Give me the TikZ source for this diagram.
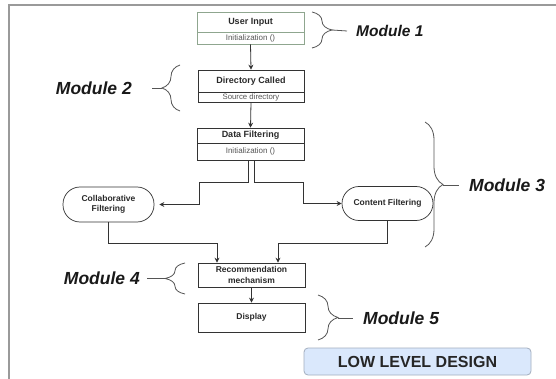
\documentclass[tikz,border=0pt]{standalone}
\usepackage{fontspec}
\setmainfont{Liberation Sans}
\usetikzlibrary{arrows.meta,decorations.pathreplacing,calc}
\definecolor{lineC}{HTML}{333333}
\definecolor{txtC}{HTML}{2A2A2A}
\definecolor{subC}{HTML}{555555}
\definecolor{greenB}{HTML}{8FA68F}
\definecolor{frameC}{HTML}{9A9A9A}
\definecolor{braceC}{HTML}{555555}
\definecolor{blueF}{HTML}{DAE8FC}
\definecolor{blueB}{HTML}{A3AEBF}
\tikzset{
  hbox/.style={draw=lineC, line width=0.7pt, inner sep=0pt, minimum width=107pt,
    font=\fontsize{9}{10}\selectfont\bfseries, text=txtC, align=center},
  sbox/.style={draw=lineC, line width=0.7pt, inner sep=0pt, minimum width=107pt,
    font=\fontsize{8.5}{9}\selectfont, text=subC},
  oval/.style={draw=lineC, line width=0.7pt, rounded corners=17pt, inner sep=0pt,
    minimum width=91pt, font=\fontsize{8.5}{10}\selectfont\bfseries, text=txtC, align=center},
  arr/.style={draw=lineC, line width=0.8pt, -{Stealth[length=5pt,width=5pt]}},
  bracedown/.style={draw=braceC, line width=0.8pt, decorate, decoration={brace, amplitude=#1}},
  tipline/.style={draw=braceC, line width=0.8pt},
  modlabel/.style={inner sep=0pt, font=\fontsize{17.5}{18}\selectfont\bfseries\itshape, text=black!90}
}
\begin{document}
\begin{tikzpicture}[x=1pt,y=-1pt]
\useasboundingbox (0,0) rectangle (556,379);
\fill[white] (0,0) rectangle (556,379);
% frame
\draw[frameC, line width=1.6pt] (9,381) -- (9,5) -- (558,5);

% boxes
\node[hbox, draw=greenB, minimum height=20pt] (ui) at (250.5,22) {User Input};
\node[sbox, draw=greenB, minimum height=12pt, font=\fontsize{8}{9}\selectfont] (uisub) at (250.5,38) {Initialization ()};

\node[hbox, minimum width=106pt, minimum height=22pt] (dir) at (251,81) {Directory Called};
\node[sbox, minimum width=106pt, minimum height=10pt, font=\fontsize{7.8}{8}\selectfont] (dirsub) at (251,97) {Source directory};

\node[hbox, minimum height=15pt] (df) at (250.5,135.5) {Data Filtering};
\node[sbox, minimum height=17pt, font=\fontsize{8}{9}\selectfont] (dfsub) at (250.5,151.5) {Initialization ()};

\node[oval, minimum height=35pt] (collab) at (108.5,204.5) {Collaborative\\Filtering};
\node[oval, minimum height=34pt] (content) at (387.5,203.5) {Content Filtering};

\node[hbox, minimum height=24pt, font=\fontsize{8.5}{10.5}\selectfont\bfseries] (rec) at (251.5,275) {Recommendation\\mechanism};
\node[hbox, minimum height=29pt, font=\fontsize{8.5}{10}\selectfont\bfseries] (disp) at (251.5,317.5) {Display};

\node[draw=blueB, fill=blueF, line width=0.8pt, rounded corners=4pt, minimum width=227pt,
  minimum height=27pt, inner sep=0pt, font=\fontsize{16}{17}\selectfont\bfseries, text=black!85] (lld) at (417.5,361.5) {LOW LEVEL DESIGN};

% connectors
\coordinate (j1) at (199,182);
\coordinate (j2) at (303,182);
\coordinate (j3) at (217,243);
\coordinate (j4) at (278,243);
\draw[arr] (uisub.south) -- (dir.north);
\draw[arr] (dirsub.south) -- (df.north);
\draw[arr] ([xshift=-2.5pt]dfsub.south) |- (j1) |- ([xshift=5pt]collab.east);
\draw[arr] ([xshift=3.5pt]dfsub.south) |- (j2) |- (content.west);
\draw[arr] (collab.south) |- (j3) -- (j3 |- rec.north);
\draw[arr] (content.south) |- (j4) -- (j4 |- rec.north);
\draw[arr] (rec.south) -- (disp.north);

% braces
\draw[bracedown=20pt] (312,12) -- (312,48);
\coordinate (t1) at (332,30);
\draw[bracedown=18pt] (180,111) -- (180,65);
\coordinate (t2) at (162,88);
\draw[bracedown=18pt] (425,122) -- (425,247);
\coordinate (t3) at (443,185);
\draw[bracedown=20pt] (185,294) -- (185,263);
\coordinate (t4) at (165,278);
\draw[bracedown=20pt] (318,295) -- (318,340);
\coordinate (t5) at (338,318);

% module labels
\node[modlabel, anchor=west, font=\fontsize{15.5}{16}\selectfont\bfseries\itshape] (m1) at (356,31) {Module 1};
\node[modlabel, anchor=east] (m2) at (132,88) {Module 2};
\node[modlabel, anchor=west] (m3) at (469,185) {Module 3};
\node[modlabel, anchor=east] (m4) at (140,278) {Module 4};
\node[modlabel, anchor=west] (m5) at (363,318) {Module 5};

\draw[tipline] (t1) -- ([xshift=-9pt]m1.west);
\draw[tipline] (t2) -- ([xshift=20pt]m2.east);
\draw[tipline] (t3) -- ([xshift=-10pt]m3.west);
\draw[tipline] (t4) -- ([xshift=7pt]m4.east);
\draw[tipline] (t5) -- ([xshift=-10pt]m5.west);
\end{tikzpicture}
\end{document}
